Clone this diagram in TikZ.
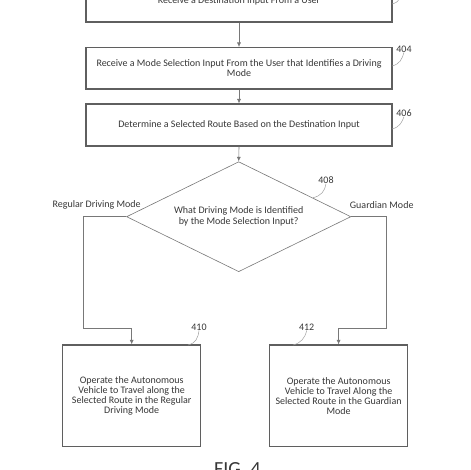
\documentclass[tikz,border=0pt]{standalone}
\usepackage{fontspec}
\setmainfont{Carlito}
\usetikzlibrary{arrows.meta,shapes.geometric}
\definecolor{txt}{RGB}{55,55,55}
\definecolor{boxc}{RGB}{95,95,95}
\definecolor{linec}{RGB}{120,120,120}
\tikzset{
  stepbox/.style={draw=boxc,line width=1.1pt,fill=white,inner sep=0pt,text=txt,font=\fontsize{10}{10}\selectfont,align=center},
  flow/.style={draw=linec,line width=0.6pt,-{Latex[length=4.5pt,width=4pt]}},
  plain/.style={draw=linec,line width=0.6pt},
  lbl/.style={text=txt,font=\fontsize{10}{10}\selectfont,inner sep=0pt},
  lead/.style={draw=linec!70,line width=0.5pt}
}
\begin{document}
\begin{tikzpicture}[x=1pt,y=-1pt]
\useasboundingbox (0,0) rectangle (470,470);
\clip (0,0) rectangle (470,470);
\node[stepbox,minimum width=306pt,minimum height=42pt] (b402) at (239,1) {Receive a Destination Input From a User};
\node[stepbox,minimum width=306pt,minimum height=41.5pt] (b404) at (239,68.3) {Receive a Mode Selection Input From the User that Identifies a Driving\\Mode};
\node[stepbox,minimum width=306pt,minimum height=42pt] (b406) at (239,125) {Determine a Selected Route Based on the Destination Input};
\node[diamond,draw=linec,line width=0.6pt,fill=white,inner sep=0pt,minimum width=224.3pt,minimum height=110pt] (d408) at (238.7,216.7) {};
\node[lbl,align=center,font=\fontsize{10}{11.6}\selectfont] (q408) at (238.7,216.5) {What Driving Mode is Identified\\by the Mode Selection Input?};
\node[stepbox,minimum width=138pt,minimum height=101.7pt] (b410) at (131.7,395.8) {Operate the Autonomous\\Vehicle to Travel along the\\Selected Route in the Regular\\Driving Mode};
\node[stepbox,minimum width=138.5pt,minimum height=101.7pt] (b412) at (338.6,395.8) {Operate the Autonomous\\Vehicle to Travel Along the\\Selected Route in the Guardian\\Mode};

\draw[flow] (b402.south) -- (b404.north);
\draw[flow] (b404.south) -- (b406.north);
\draw[flow] (b406.south) -- (d408.north);

\coordinate (lc1) at (83.3,216.7);
\coordinate (lc2) at (83.3,328.3);
\coordinate (lc3) at (131.7,328.3);
\coordinate (rc1) at (386,216.7);
\coordinate (rc2) at (386,328.3);
\coordinate (rc3) at (338.6,328.3);
\draw[plain] (d408.west) -- (lc1) -- (lc2) -- (lc3);
\draw[flow] (lc3) -- (b410.north);
\draw[plain] (d408.east) -- (rc1) -- (rc2) -- (rc3);
\draw[flow] (rc3) -- (b412.north);

\node[lbl] (tReg) at (96.7,205) {Regular Driving Mode};
\node[lbl] (tGua) at (381.7,205) {Guardian Mode};

\node[lbl] (n404) at (404,49) {404};
\node[lbl] (n406) at (404,113) {406};
\node[lbl] (n408) at (326,180) {408};
\node[lbl] (n410) at (199,327) {410};
\node[lbl] (n412) at (306.7,327) {412};

\coordinate (a402) at (392,4);
\coordinate (a404) at (392,66);
\coordinate (a406) at (392,129);
\coordinate (a408) at (313,197.7);
\coordinate (a410) at (188,345);
\coordinate (a412) at (293,345);
\draw[lead] (a402) .. controls (400,2) and (401,-3) .. (400,-8);
\draw[lead] (a404) .. controls (400,64) and (402,59) .. (n404.south);
\draw[lead] (a406) .. controls (400,127) and (402,122) .. (n406.south);
\draw[lead] (a408) .. controls (321,196) and (325,191) .. (n408.south);
\draw[lead] (a410) .. controls (196,343) and (198,338) .. (n410.south);
\draw[lead] (a412) .. controls (301,343) and (305,338) .. (n412.south);

\node[text=txt,font=\fontsize{20}{20}\selectfont,anchor=north,inner sep=0pt] (fig) at (237.5,462) {FIG. 4};
\end{tikzpicture}
\end{document}
